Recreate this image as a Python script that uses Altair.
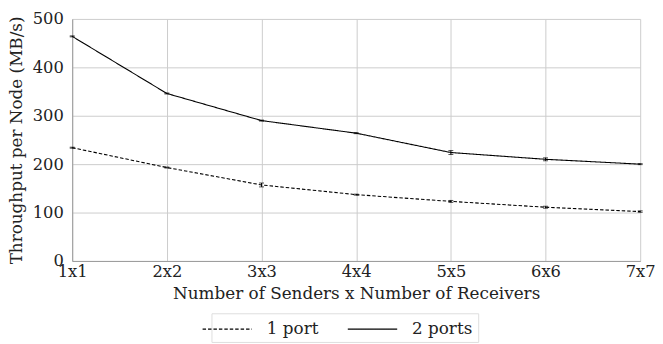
import altair as alt
import pandas as pd

categories = ["1x1", "2x2", "3x3", "4x4", "5x5", "6x6", "7x7"]
series_names = ["1 port", "2 ports"]
one_port = [234, 193, 157, 137, 123, 111, 102]
one_port_err = [1, 1, 4, 1, 2, 2, 1.5]
two_ports = [464, 346, 290, 264, 224, 210, 200]
two_ports_err = [1, 1, 1, 1, 4, 3, 1]

rows = []
for c, v, e in zip(categories, one_port, one_port_err):
    rows.append({"cat": c, "val": v, "lo": v - e, "hi": v + e, "series": series_names[0]})
for c, v, e in zip(categories, two_ports, two_ports_err):
    rows.append({"cat": c, "val": v, "lo": v - e, "hi": v + e, "series": series_names[1]})
df = pd.DataFrame(rows)

FONT = "'DejaVu Serif', 'Liberation Serif', serif"

x = alt.X(
    "cat:O",
    sort=categories,
    scale=alt.Scale(type="point", padding=0),
    axis=alt.Axis(
        title="Number of Senders x Number of Receivers",
        labelAngle=0,
        ticks=False,
        grid=True,
        gridColor="#cccccc",
        domainColor="#999999",
        labelPadding=3,
        titlePadding=6,
    ),
)
y_scale = alt.Scale(domain=[0, 500], nice=False)
y = alt.Y(
    "val:Q",
    scale=y_scale,
    axis=alt.Axis(
        title="Throughput per Node (MB/s)",
        values=list(range(0, 501, 50)),
        labelExpr="datum.value % 100 === 0 ? datum.label : ''",
        gridColor={"expr": "datum.value % 100 === 0 ? '#cccccc' : '#eeeeee'"},
        ticks=False,
        domainColor="#999999",
        labelPadding=9,
        titlePadding=7,
    ),
)

lines = alt.Chart(df).mark_line(color="black", strokeWidth=1.1).encode(
    x=x,
    y=y,
    strokeDash=alt.StrokeDash(
        "series:N",
        scale=alt.Scale(domain=series_names, range=[[3.5, 2], [1, 0]]),
        legend=alt.Legend(
            title=None,
            orient="none",
            direction="horizontal",
            legendX=141,
            legendY=298,
            symbolType="M-2.5,0H2.5",
            symbolSize=400,
            symbolStrokeColor="black",
            symbolFillColor="transparent",
            symbolStrokeWidth=1.1,
            labelFontSize=17,
            labelFont=FONT,
            labelColor="#222222",
            strokeColor="#dddddd",
            padding=5,
            columnPadding=26,
            labelOffset=29,
        ),
    ),
)

rules = alt.Chart(df).mark_rule(color="black", strokeWidth=1).encode(
    x=alt.X("cat:O", sort=categories),
    y=alt.Y("lo:Q", scale=y_scale),
    y2="hi:Q",
)
ticks_lo = alt.Chart(df).mark_tick(color="black", size=5, thickness=1).encode(
    x=alt.X("cat:O", sort=categories),
    y=alt.Y("lo:Q", scale=y_scale),
)
ticks_hi = alt.Chart(df).mark_tick(color="black", size=5, thickness=1).encode(
    x=alt.X("cat:O", sort=categories),
    y=alt.Y("hi:Q", scale=y_scale),
)

chart = (
    alt.layer(lines, rules, ticks_lo, ticks_hi)
    .properties(
        width=575,
        height=245,
        autosize=alt.AutoSizeParams(type="none"),
        padding={"left": 65, "top": 9, "right": 15, "bottom": 82},
    )
    .configure_view(stroke=None)
    .configure_axis(
        labelFont=FONT,
        titleFont=FONT,
        labelFontSize=16.5,
        titleFontSize=17,
        titleFontWeight="normal",
        labelColor="#222222",
        titleColor="#222222",
    )
)

chart.save("out.html", embed_options={"renderer": "svg", "actions": False})
